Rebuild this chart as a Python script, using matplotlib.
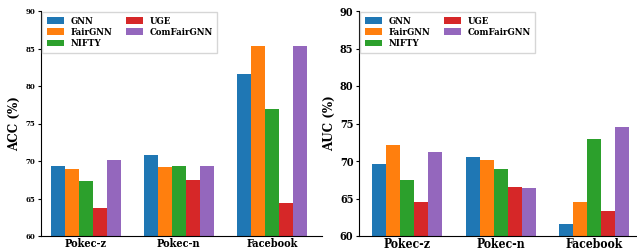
import numpy as np
import matplotlib.pyplot as plt

plt.rcParams['font.family'] = 'DejaVu Serif'
plt.rcParams['font.weight'] = 'bold'
plt.rcParams['font.stretch'] = 'condensed'

datasets = ['Pokec-z', 'Pokec-n', 'Facebook']
methods = ['GNN', 'FairGNN', 'NIFTY', 'UGE', 'ComFairGNN']
colors = ['#1f77b4', '#ff7f0e', '#2ca02c', '#d62728', '#9467bd']

# ACC (%) par méthode, ordre des datasets
acc_gnn = [69.3, 70.8, 81.6]
acc_fairgnn = [68.9, 69.2, 85.3]
acc_nifty = [67.3, 69.4, 77.0]
acc_uge = [63.7, 67.4, 64.4]
acc_comfair = [70.2, 69.4, 85.3]

# AUC (%)
auc_gnn = [69.6, 70.5, 61.6]
auc_fairgnn = [72.2, 70.2, 64.6]
auc_nifty = [67.4, 69.0, 73.0]
auc_uge = [64.6, 66.6, 63.4]
auc_comfair = [71.2, 66.4, 74.6]

acc = [acc_gnn, acc_fairgnn, acc_nifty, acc_uge, acc_comfair]
auc = [auc_gnn, auc_fairgnn, auc_nifty, auc_uge, auc_comfair]

W, H = 637, 252
fig = plt.figure(figsize=(W / 100, H / 100), dpi=100)
ax1 = fig.add_axes([41 / W, 16 / H, 281 / W, 225 / H])
ax2 = fig.add_axes([359 / W, 16 / H, 282 / W, 225 / H])

x = np.arange(len(datasets))
bw = 0.15


def draw(ax, vals, ylabel, xtick_fs, ytick_fs, xlim_left):
    for i, (m, v) in enumerate(zip(methods, vals)):
        ax.bar(x + (i - 2) * bw, v, bw, color=colors[i], label=m)
    ax.set_ylim(60, 90)
    ax.set_xlim(xlim_left, xlim_left + 3.02)
    ax.set_xticks(x)
    ax.set_xticklabels(datasets, fontsize=xtick_fs, fontweight='bold')
    ax.set_yticks([60, 65, 70, 75, 80, 85, 90])
    ax.tick_params(axis='y', labelsize=ytick_fs, length=2, pad=2)
    ax.tick_params(axis='x', length=0, pad=1.5)
    for lab in ax.get_yticklabels():
        lab.set_fontweight('bold')
    ax.set_ylabel(ylabel, fontsize=9.5, fontweight='bold', labelpad=3)
    ax.spines['top'].set_visible(False)
    ax.spines['right'].set_visible(False)
    ax.legend(ncol=2, loc='upper left', prop={'weight': 'bold', 'size': 6.8},
              borderaxespad=0.15, columnspacing=1.4, handlelength=1.8,
              handletextpad=0.75, labelspacing=0.25, borderpad=0.45, fancybox=False)


draw(ax1, acc, 'ACC (%)', 7.8, 5.6, -0.48)
draw(ax2, auc, 'AUC (%)', 8.7, 7.8, -0.516)

fig.savefig('out.png', dpi=100)
